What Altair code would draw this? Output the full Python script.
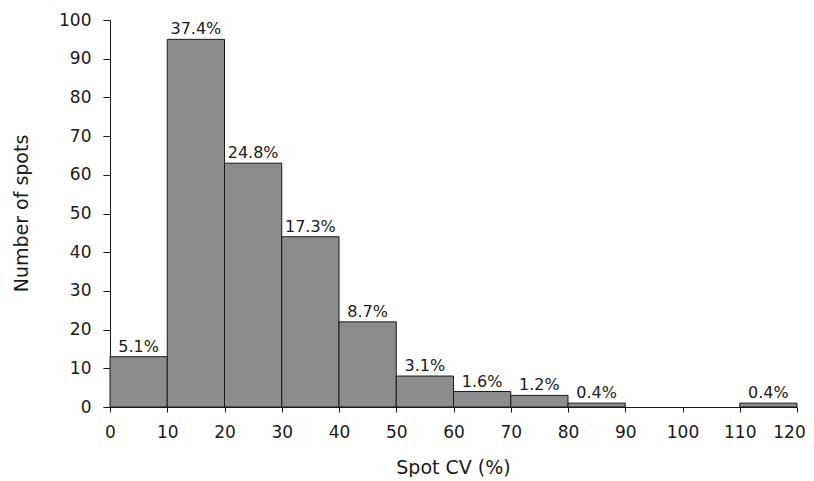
import altair as alt
import pandas as pd

bin_start = [0, 10, 20, 30, 40, 50, 60, 70, 80, 90, 100, 110]
bin_end = [10, 20, 30, 40, 50, 60, 70, 80, 90, 100, 110, 120]
counts = [13, 95, 63, 44, 22, 8, 4, 3, 1, 0, 0, 1]
pct_labels = ["5.1%", "37.4%", "24.8%", "17.3%", "8.7%", "3.1%", "1.6%",
              "1.2%", "0.4%", "", "", "0.4%"]
x_ticks = list(range(0, 121, 10))
y_ticks = list(range(0, 101, 10))

df = pd.DataFrame({"start": bin_start, "end": bin_end, "count": counts, "label": pct_labels})
df["mid"] = (df["start"] + df["end"]) / 2

FONT = "DejaVu Sans"
INK = "#1a1a1a"

x_scale = alt.Scale(domain=[0, 120], nice=False, zero=False)
y_scale = alt.Scale(domain=[0, 100], nice=False)

x_axis = alt.Axis(values=x_ticks, title="Spot CV (%)", grid=False,
                  labelFont=FONT, labelFontSize=17, labelColor=INK,
                  labelPadding=12, tickSize=5, tickColor=INK,
                  domainColor=INK, labelFlush=False, labelOverlap=False,
                  labelOffset={"condition": {"test": "datum.value == 120", "value": -8}, "value": 0},
                  titleFont=FONT, titleFontSize=19, titleFontWeight="normal",
                  titleColor=INK, titleX=343, titleY=66,
                  titleAlign="center", titleBaseline="alphabetic")
y_axis = alt.Axis(values=y_ticks, title="Number of spots", grid=False,
                  labelFont=FONT, labelFontSize=17, labelColor=INK,
                  labelPadding=12, tickSize=7, tickColor=INK,
                  domainColor=INK, labelFlush=False, labelOverlap=False,
                  titleFont=FONT, titleFontSize=19, titleFontWeight="normal",
                  titleColor=INK, titleX=-89, titleY=193,
                  titleAlign="center", titleBaseline="middle", titleAngle=270)

bars = alt.Chart(df[df["count"] > 0]).mark_bar(color="#8c8c8c", stroke=INK, strokeWidth=1).encode(
    x=alt.X("start:Q", scale=x_scale, axis=x_axis),
    x2="end:Q",
    y=alt.Y("count:Q", scale=y_scale, axis=y_axis),
    y2=alt.datum(0),
)

text = alt.Chart(df[df["label"] != ""]).mark_text(
    baseline="alphabetic", dy=-5, fontSize=16, font=FONT, color=INK
).encode(
    x=alt.X("mid:Q", scale=x_scale, axis=x_axis),
    y=alt.Y("count:Q", scale=y_scale, axis=y_axis),
    text="label:N",
)

chart = alt.layer(bars, text).properties(
    width=687, height=387,
    autosize="none",
    padding={"left": 102, "top": 12, "right": 9, "bottom": 70},
    background="white",
).configure_view(stroke=None)

chart.save("out.html", embed_options={"renderer": "svg", "actions": False})
